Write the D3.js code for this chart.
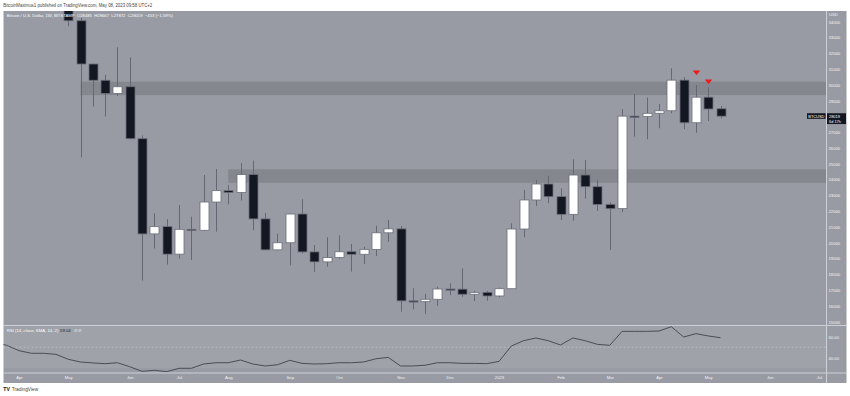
<!DOCTYPE html>
<html><head><meta charset="utf-8">
<script src="https://cdn.jsdelivr.net/npm/d3@7"></script>
<style>html,body{margin:0;padding:0;background:#fff;} svg{display:block;font-family:"Liberation Sans",Arial,sans-serif;}</style>
</head><body><svg id="c" width="850" height="396"></svg>
<script>
// ---------------- DATA ----------------
const candleDates = ['2022-05-02','2022-05-09','2022-05-16','2022-05-23','2022-05-30','2022-06-06','2022-06-13','2022-06-20','2022-06-27','2022-07-04','2022-07-11','2022-07-18','2022-07-25','2022-08-01','2022-08-08','2022-08-15','2022-08-22','2022-08-29','2022-09-05','2022-09-12','2022-09-19','2022-09-26','2022-10-03','2022-10-10','2022-10-17','2022-10-24','2022-10-31','2022-11-07','2022-11-14','2022-11-21','2022-11-28','2022-12-05','2022-12-12','2022-12-19','2022-12-26','2023-01-02','2023-01-09','2023-01-16','2023-01-23','2023-01-30','2023-02-06','2023-02-13','2023-02-20','2023-02-27','2023-03-06','2023-03-13','2023-03-20','2023-03-27','2023-04-03','2023-04-10','2023-04-17','2023-04-24','2023-05-01','2023-05-08'];
const opens  = [38470,34060,31320,30290,29460,29880,26590,20560,21020,19280,20850,20790,22580,23300,23180,24320,21510,19550,20000,21820,19420,18790,19060,19430,19270,19580,20630,20880,16320,16270,16420,17070,17060,16740,16860,16630,17090,20870,22710,23720,22920,21800,24290,23550,22430,22160,28020,27990,28200,28360,30300,27600,29220,28485];
const highs  = [40020,34240,31340,30630,32380,31750,26800,21870,21500,22390,21650,24290,24670,23650,25050,25200,21900,20580,21830,22760,19860,20350,20470,19930,19750,21070,21450,21060,17120,16760,17220,17430,18380,16960,16950,17160,21230,23340,23970,24230,23450,25290,25240,23980,22560,28470,29420,29190,28790,31050,30480,29990,29850,28667];
const lows   = [33710,25400,28630,28000,29300,26560,17600,19640,18620,19000,18910,20760,20700,22430,22680,20800,19530,19520,18560,19320,18160,18480,18980,18170,18650,19160,20060,15630,15780,15490,16010,16690,16580,16310,16330,16550,17070,20350,22330,22500,21440,21400,22790,22010,19540,21940,26720,26550,27250,28200,27190,26970,27710,27872];
const closes = [34060,31320,30290,29460,29880,26590,20560,21020,19280,20850,20790,22580,23300,23180,24320,21510,19550,20000,21820,19420,18790,19060,19430,19270,19580,20630,20880,16320,16270,16420,17070,17060,16740,16860,16630,17090,20870,22710,23720,22920,21800,24290,23550,22430,22160,28020,27990,28200,28360,30300,27600,29220,28472,28019];

const rsiDates = ['2022-03-21','2022-03-28','2022-04-04','2022-04-11','2022-04-18','2022-04-25'].concat(candleDates);
const rsiValues = [54.5,51.8,46.7,44.2,44.2,43.2,38.5,35.9,35.0,34.3,35.2,31.4,27.0,28.0,26.7,29.9,29.9,34.0,35.2,35.2,37.8,34.0,32.1,33.3,37.5,34.6,34.0,34.3,35.2,35.2,35.9,39.0,40.3,32.1,32.1,32.8,35.2,35.2,34.6,34.6,34.3,36.5,51.1,56.2,58.8,56.2,52.1,58.8,56.2,52.7,51.8,65.1,65.1,65.1,65.4,69.5,59.7,62.9,60.7,59.04];

const zoneStarts = ['2022-05-09','2022-08-01'];
const zoneLows   = [29350,23800];
const zoneHighs  = [30200,24650];

const markerDates  = ['2023-04-24','2023-05-01'];
const markerPrices = [30625,30055];

const priceTicks = [34000,33000,32000,31000,30000,29000,28000,27000,26000,25000,24000,23000,22000,21000,20000,19000,18000,17000,16000,15000];
const rsiTicks = [60,40];
const monthTickDates = ['2022-04-04','2022-05-02','2022-06-06','2022-07-04','2022-08-01','2022-09-05','2022-10-03','2022-11-07','2022-12-05','2023-01-02','2023-02-06','2023-03-06','2023-04-03','2023-05-01','2023-06-05','2023-07-03'];
const monthTickLabels = ['Apr','May','Jun','Jul','Aug','Sep','Oct','Nov','Dec','2023','Feb','Mar','Apr','May','Jun','Jul'];

const headerText = 'BitcoinMaximus1 published on TradingView.com, May 08, 2023 09:58 UTC+2';
const titleText = 'Bitcoin / U.S. Dollar, 1W, BITSTAMP  O28485  H28667  L27872  C28019  \u2212453 (\u22121.59%)';
const rsiTitle = 'RSI (14, close, SMA, 14, 2)';
const rsiLast = '59.04';
const lastClose = 28019;
const countdown = '6d 17h';

// ---------------- LAYOUT ----------------
const parse = d3.utcParse('%Y-%m-%d');
const svg = d3.select('#c');
const L = 3.5, R = 846.5, AX = 826.5, TOP = 11, MAIN_B = 325, RSI_T = 326, RSI_B = 372.5, BOT = 383;

const x = d3.scaleUtc().domain([parse('2022-04-04'), parse('2023-07-03')]).range([19, 819]);
const y = d3.scaleLinear().domain([15000, 34000]).range([321.7, 21.7]);
const ry = d3.scaleLinear().domain([40, 60]).range([357.7, 336.7]);

const candles = candleDates.map((d, i) => ({date: parse(d), o: opens[i], h: highs[i], l: lows[i], c: closes[i]}));
const step = x(parse('2022-05-09')) - x(parse('2022-05-02'));
const bw = step * 0.73;

// background
svg.append('rect').attr('x', L).attr('y', TOP).attr('width', R - L).attr('height', BOT - TOP).attr('fill', '#989ba3');

const defs = svg.append('defs');
defs.append('clipPath').attr('id', 'cm').append('rect').attr('x', L).attr('y', TOP).attr('width', AX - L).attr('height', MAIN_B - TOP);
defs.append('clipPath').attr('id', 'cr').append('rect').attr('x', L).attr('y', RSI_T).attr('width', AX - L).attr('height', RSI_B - RSI_T);

// main pane
const gm = svg.append('g').attr('clip-path', 'url(#cm)');
gm.selectAll('rect.zone').data(zoneStarts).join('rect').attr('class', 'zone')
  .attr('x', d => x(parse(d)))
  .attr('width', d => AX - x(parse(d)))
  .attr('y', (d, i) => y(zoneHighs[i]))
  .attr('height', (d, i) => y(zoneLows[i]) - y(zoneHighs[i]))
  .attr('fill', 'rgba(0,0,0,0.13)');

const cg = gm.selectAll('g.candle').data(candles).join('g').attr('class', 'candle');
cg.append('line')
  .attr('x1', d => Math.round(x(d.date)) + 0.5).attr('x2', d => Math.round(x(d.date)) + 0.5)
  .attr('y1', d => y(d.h)).attr('y2', d => y(d.l))
  .attr('stroke', '#656873').attr('stroke-width', 1);
cg.append('rect')
  .attr('x', d => Math.round(x(d.date)) + 0.5 - bw / 2)
  .attr('width', bw)
  .attr('y', d => y(Math.max(d.o, d.c)))
  .attr('height', d => Math.max(1.2, Math.abs(y(d.o) - y(d.c))))
  .attr('fill', d => d.c >= d.o ? '#ffffff' : '#131722')
  .attr('stroke', '#6c6f7a').attr('stroke-width', 0.8);

// markers
gm.selectAll('path.mk').data(markerDates).join('path').attr('class', 'mk')
  .attr('d', (d, i) => {
    const cx = Math.round(x(parse(d))) + 0.5, ty = y(markerPrices[i]);
    return `M${cx - 3.8},${ty - 4.6}L${cx + 3.8},${ty - 4.6}L${cx},${ty}Z`;
  })
  .attr('fill', '#f01a1a');

// RSI pane
const gr = svg.append('g').attr('clip-path', 'url(#cr)');
gr.append('rect').attr('x', L).attr('width', AX - L)
  .attr('y', ry(70)).attr('height', ry(30) - ry(70)).attr('fill', 'rgba(255,255,255,0.07)');
gr.append('line').attr('x1', L).attr('x2', AX).attr('y1', ry(50)).attr('y2', ry(50))
  .attr('stroke', 'rgba(255,255,255,0.45)').attr('stroke-width', 0.6).attr('stroke-dasharray', '2,2');
const rsiData = rsiDates.map((d, i) => [parse(d), rsiValues[i]]);
gr.append('path').datum(rsiData)
  .attr('d', d3.line().x(d => x(d[0])).y(d => ry(d[1])))
  .attr('fill', 'none').attr('stroke', '#4a4d57').attr('stroke-width', 1);

// separators
const sepC = '#cdd0d6';
svg.append('line').attr('x1', L).attr('x2', R).attr('y1', 325.5).attr('y2', 325.5).attr('stroke', sepC).attr('stroke-width', 1);
svg.append('line').attr('x1', L).attr('x2', R).attr('y1', 373).attr('y2', 373).attr('stroke', sepC).attr('stroke-width', 1);
svg.append('line').attr('x1', AX).attr('x2', AX).attr('y1', TOP).attr('y2', BOT).attr('stroke', sepC).attr('stroke-width', 1);

// price axis
const axFont = 4.2, axCol = '#f2f3f6';
const pa = svg.append('g').attr('transform', `translate(${AX + 2},0)`)
  .call(d3.axisRight(y).tickValues(priceTicks).tickSize(0).tickPadding(0).tickFormat(d3.format('d')));
pa.select('.domain').remove();
pa.selectAll('text').attr('font-size', axFont).attr('fill', axCol).attr('font-family', '"Liberation Sans",Arial,sans-serif');
svg.append('text').attr('x', AX + 2.5).attr('y', 15.5).attr('font-size', axFont).attr('fill', axCol).text('USD');

const ra = svg.append('g').attr('transform', `translate(${AX + 2},0)`)
  .call(d3.axisRight(ry).tickValues(rsiTicks).tickSize(0).tickPadding(0).tickFormat(d3.format('.2f')));
ra.select('.domain').remove();
ra.selectAll('text').attr('font-size', axFont).attr('fill', axCol).attr('font-family', '"Liberation Sans",Arial,sans-serif');

// time axis
const ta = svg.append('g').attr('transform', 'translate(0,376)')
  .call(d3.axisBottom(x).tickValues(monthTickDates.map(parse)).tickSize(0).tickPadding(0)
    .tickFormat((d, i) => monthTickLabels[i]));
ta.select('.domain').remove();
ta.selectAll('text').attr('font-size', axFont).attr('fill', axCol).attr('font-family', '"Liberation Sans",Arial,sans-serif');

// current price labels
const cy = y(lastClose);
svg.append('rect').attr('x', 807).attr('y', cy - 2.9).attr('width', 18.6).attr('height', 5.6).attr('fill', '#131722');
svg.append('text').attr('x', 816.3).attr('y', cy + 1.5).attr('text-anchor', 'middle').attr('font-size', 3.9).attr('fill', '#fff').text('BTCUSD');
svg.append('rect').attr('x', AX + 0.5).attr('y', cy - 2.9).attr('width', 19).attr('height', 10.8).attr('fill', '#131722');
svg.append('text').attr('x', AX + 2.5).attr('y', cy + 1.5).attr('font-size', 3.9).attr('fill', '#fff').text(d3.format('d')(lastClose));
svg.append('text').attr('x', AX + 2.5).attr('y', cy + 6.6).attr('font-size', 3.9).attr('fill', '#fff').text(countdown);

// titles
svg.append('text').attr('x', 3.3).attr('y', 6.6).attr('font-size', 4.5).attr('fill', '#444')
  .attr('textLength', 149).attr('lengthAdjust', 'spacingAndGlyphs').text(headerText);
svg.append('text').attr('x', 6.8).attr('y', 17).attr('font-size', 4.4).attr('fill', '#fff')
  .attr('textLength', 166).attr('lengthAdjust', 'spacingAndGlyphs').attr('xml:space', 'preserve').text(titleText);
svg.append('text').attr('x', 6.8).attr('y', 332.3).attr('font-size', 4.3).attr('fill', '#fff')
  .attr('textLength', 51.5).attr('lengthAdjust', 'spacingAndGlyphs').text(rsiTitle);
svg.append('text').attr('x', 60).attr('y', 332.3).attr('font-size', 4.3).attr('fill', '#1b1e26').text(rsiLast);
svg.append('text').attr('x', 74).attr('y', 332.3).attr('font-size', 4.3).attr('fill', '#fff').text('\u2205  \u2205');

// TradingView logo
svg.append('text').attr('x', 3.3).attr('y', 391.3).attr('font-size', 5.2).attr('font-weight', 'bold').attr('fill', '#131722').text('TV');
svg.append('text').attr('x', 11.7).attr('y', 391.3).attr('font-size', 4.6).attr('fill', '#444')
  .attr('textLength', 26.5).attr('lengthAdjust', 'spacingAndGlyphs').text('TradingView');
</script></body></html>
